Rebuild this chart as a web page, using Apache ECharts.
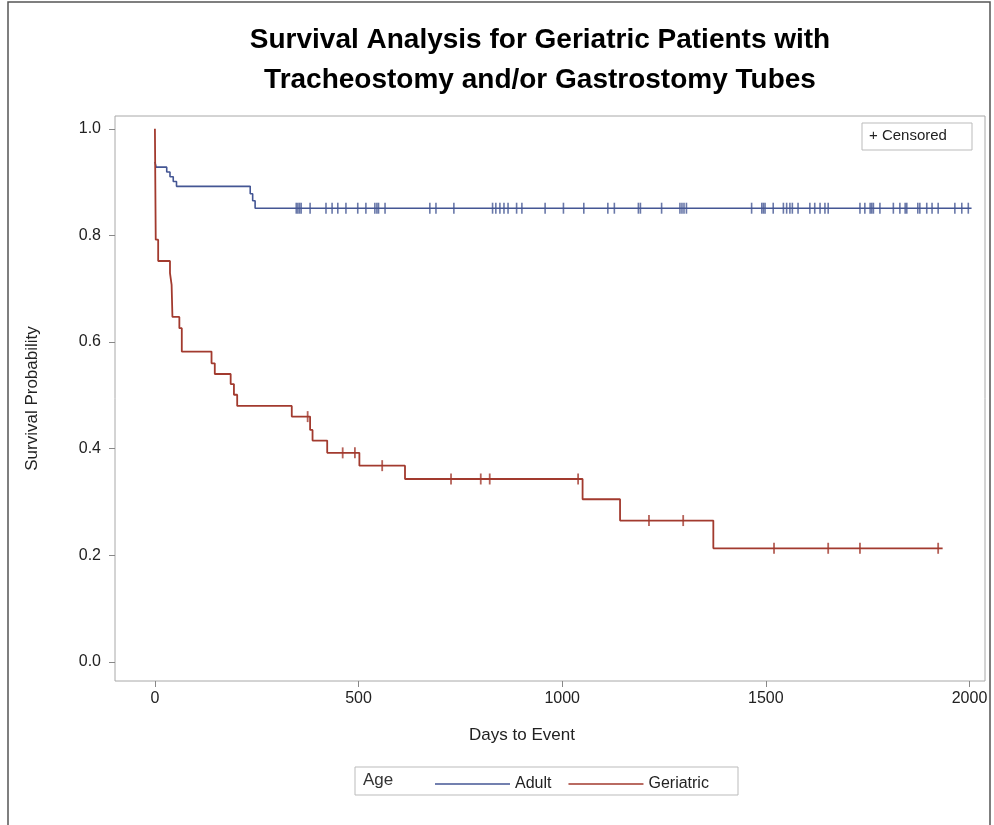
<!DOCTYPE html>
<html>
<head>
<meta charset="utf-8">
<title>Survival Analysis</title>
<script src="https://cdn.jsdelivr.net/npm/echarts/dist/echarts.min.js"></script>
<style>
  html, body { margin: 0; padding: 0; background: #fff; }
  #chart { width: 994px; height: 825px; }
</style>
</head>
<body>
<div id="chart"></div>
<script>
// Kaplan-Meier steps: time (days) and survival after that time
const adultTimes = [0, 3, 29, 37, 45, 53, 234, 240, 246, 2005];
const adultSurv = [0.938, 0.928, 0.919, 0.910, 0.901, 0.892, 0.878, 0.865, 0.851, 0.851];
const adultCensored = [347, 351, 355, 359, 381, 420, 435, 449, 469, 498, 518, 540, 545, 549, 565,
  675, 690, 734, 829, 837, 847, 857, 867, 888, 901, 958, 1003, 1053, 1112, 1128, 1187, 1192,
  1244, 1289, 1294, 1299, 1305, 1465, 1490, 1494, 1498, 1518, 1543, 1551, 1559, 1565, 1579,
  1608, 1620, 1633, 1645, 1653, 1731, 1743, 1756, 1760, 1764, 1780, 1813, 1829, 1842, 1846,
  1873, 1878, 1895, 1908, 1923, 1964, 1981, 1997];

const geriatricTimes = [0, 2, 8, 37, 41, 43, 60, 66, 139, 147, 186, 194, 202, 336, 381, 387,
  423, 502, 614, 1050, 1142, 1371, 1934];
const geriatricSurv = [1.0, 0.792, 0.752, 0.729, 0.707, 0.647, 0.626, 0.582, 0.560, 0.540, 0.521,
  0.501, 0.480, 0.460, 0.435, 0.415, 0.392, 0.368, 0.343, 0.305, 0.265, 0.213, 0.213];
const geriatricCensored = [375, 461, 491, 558, 727, 800, 822, 1039, 1213, 1297, 1520, 1653, 1731, 1923];

const xTicks = [0, 500, 1000, 1500, 2000];
const yTicks = [0, 0.2, 0.4, 0.6, 0.8, 1.0];

const blue = '#445694';
const red = '#a23a2e';
const font = 'Liberation Sans, Arial, sans-serif';

// survival value of a step curve at time t
function survAt(times, surv, t) {
  let s = surv[0];
  for (let i = 0; i < times.length; i++) {
    if (times[i] <= t) s = surv[i];
  }
  return s;
}

const adultLine = adultTimes.map((t, i) => [t, adultSurv[i]]);
const geriatricLine = geriatricTimes.map((t, i) => [t, geriatricSurv[i]]);
const adultMarks = adultCensored.map(t => [t, survAt(adultTimes, adultSurv, t)]);
const geriatricMarks = geriatricCensored.map(t => [t, survAt(geriatricTimes, geriatricSurv, t)]);

const chart = echarts.init(document.getElementById('chart'));

chart.setOption({
  animation: false,
  textStyle: { fontFamily: font },
  title: {
    text: 'Survival Analysis for Geriatric Patients with\nTracheostomy and/or Gastrostomy Tubes',
    left: 535,
    top: 15,
    textAlign: 'center',
    textStyle: { fontSize: 28, fontWeight: 'bold', color: '#000', lineHeight: 40, fontFamily: font }
  },
  grid: {
    left: 115, right: 9, top: 116, bottom: 144,
    show: true, borderColor: '#a8a8a8', borderWidth: 1
  },
  xAxis: {
    type: 'value',
    min: -98, max: 2038,
    name: 'Days to Event',
    nameLocation: 'middle',
    nameGap: 46,
    nameTextStyle: { fontSize: 17, color: '#222', padding: [0, 56, 0, 0] },
    splitLine: { show: false },
    axisLine: { show: false, onZero: false },
    axisTick: { show: true, length: 6, lineStyle: { color: '#888' }, customValues: xTicks },
    axisLabel: { fontSize: 16, color: '#222', margin: 10, customValues: xTicks, formatter: v => String(v) }
  },
  yAxis: {
    type: 'value',
    min: -0.036, max: 1.024,
    name: 'Survival Probability',
    nameLocation: 'middle',
    nameGap: 74,
    nameTextStyle: { fontSize: 17, color: '#222' },
    splitLine: { show: false },
    axisLine: { show: false, onZero: false },
    axisTick: { show: true, length: 6, lineStyle: { color: '#888' }, customValues: yTicks },
    axisLabel: {
      fontSize: 16, color: '#222', margin: 14, customValues: yTicks,
      formatter: v => v.toFixed(1)
    }
  },
  legend: {
    data: ['Adult', 'Geriatric'],
    left: 430,
    top: 771,
    icon: 'rect',
    itemWidth: 75,
    itemHeight: 1.5,
    itemGap: 17,
    textStyle: { fontSize: 16, color: '#222' }
  },
  graphic: [
    // outer frame of the figure
    { type: 'rect', shape: { x: 8, y: 2, width: 982, height: 840 }, style: { fill: 'none', stroke: '#555', lineWidth: 1.5 }, silent: true },
    // legend box and its title
    { type: 'rect', shape: { x: 355, y: 767, width: 383, height: 28 }, style: { fill: 'none', stroke: '#bbb', lineWidth: 1 } },
    { type: 'text', left: 363, top: 772, style: { text: 'Age', fontSize: 17, fill: '#333', fontFamily: font } },
    // censored key
    { type: 'rect', shape: { x: 862, y: 123, width: 110, height: 27 }, style: { fill: '#fff', stroke: '#bbb', lineWidth: 1 } },
    { type: 'text', left: 869, top: 128, style: { text: '+ Censored', fontSize: 15, fill: '#222', fontFamily: font } }
  ],
  series: [
    {
      name: 'Adult', type: 'line', step: 'end', showSymbol: false,
      data: adultLine, color: blue, lineStyle: { width: 1.6, color: blue }
    },
    {
      name: 'Geriatric', type: 'line', step: 'end', showSymbol: false,
      data: geriatricLine, color: red, lineStyle: { width: 1.8, color: red }
    },
    {
      name: 'Adult censored', type: 'scatter', symbol: 'rect', symbolSize: [1.6, 11],
      data: adultMarks, itemStyle: { color: blue }
    },
    {
      name: 'Geriatric censored', type: 'scatter', symbol: 'rect', symbolSize: [1.8, 11],
      data: geriatricMarks, itemStyle: { color: red }
    }
  ]
});
</script>
</body>
</html>
